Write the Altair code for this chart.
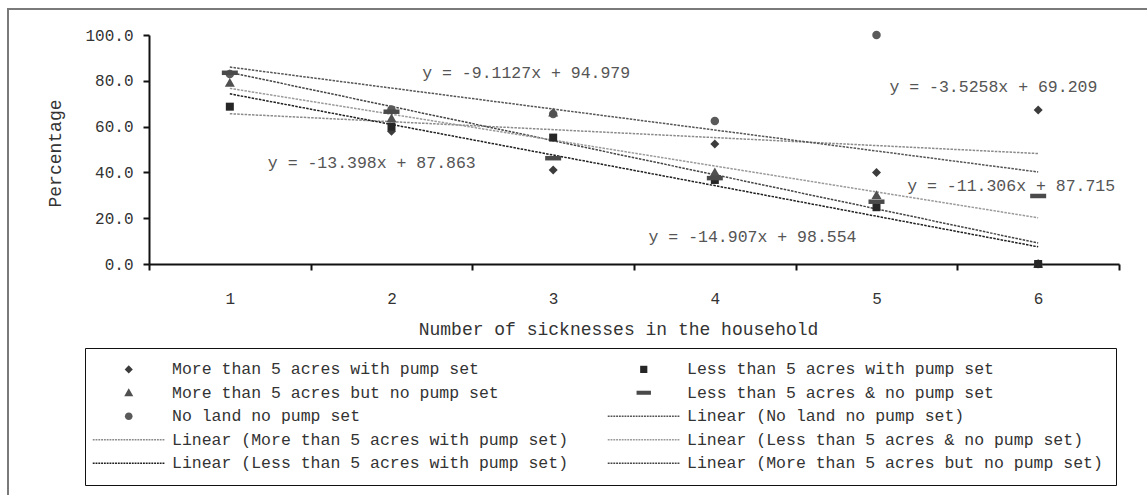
import altair as alt
import pandas as pd

# ---------------- data ----------------
categories = [1, 2, 3, 4, 5, 6]

more_with_pump = [83.0, 58.0, 41.0, 52.4, 40.0, 67.2]
no_land = [83.0, 67.5, 65.5, 62.5, 100.0, 0.0]
more_no_pump = [79.0, 63.5, 66.0, 40.0, 30.0, 0.0]
less_with_pump = [68.7, 60.0, 55.2, 36.7, 24.8, 0.0]
less_no_pump = [83.5, 66.5, 46.2, 37.5, 27.2, 29.7]

S_MWP = "More than 5 acres with pump set"
S_LWP = "Less than 5 acres with pump set"
S_MNP = "More than 5 acres but no pump set"
S_LNP = "Less than 5 acres & no pump set"
S_NL = "No land no pump set"

# drawing order (later drawn on top)
series_order = [S_MWP, S_NL, S_MNP, S_LWP, S_LNP]
series_values = [more_with_pump, no_land, more_no_pump, less_with_pump, less_no_pump]

# legend entries, listed column by column (left column first)
legend_labels = [
    S_MWP, S_MNP, S_NL,
    "Linear (More than 5 acres with pump set)", "Linear (Less than 5 acres with pump set)",
    S_LWP, S_LNP, "Linear (No land no pump set)",
    "Linear (Less than 5 acres & no pump set)", "Linear (More than 5 acres but no pump set)",
]

eq_texts = ["y = -9.1127x + 94.979", "y = -13.398x + 87.863", "y = -14.907x + 98.554",
            "y = -3.5258x + 69.209", "y = -11.306x + 87.715"]
eq_x = [2.19, 1.235, 3.59, 5.08, 5.19]
eq_y = [83.4, 44.1, 11.8, 77.3, 34.1]

y_ticks = [0, 20, 40, 60, 80, 100]

# ---------------- styles ----------------
FONT = "Liberation Mono"
TXT = "#333333"

point_colors = {S_MWP: "#3c3c3c", S_LWP: "#262626", S_MNP: "#505050", S_LNP: "#4a4a4a", S_NL: "#5a5a5a"}
line_colors = {S_NL: "#555555", S_MWP: "#8a8a8a", S_LNP: "#9a9a9a", S_LWP: "#1e1e1e", S_MNP: "#444444"}

diamond = "M0,-0.9L0.9,0L0,0.9L-0.9,0Z"
square = "M-0.8,-0.8H0.8V0.8H-0.8Z"
triangle = "M0,-1L1,0.75H-1Z"
dash = "M-1.6,-0.45H1.6V0.45H-1.6Z"
circle = "M-0.85,0A0.85,0.85,0,1,1,0.85,0A0.85,0.85,0,1,1,-0.85,0Z"

# dotted line sample for legend (unit = 4.5px)
parts = []
xpos = -8.0
while xpos < 8.0:
    x2 = min(xpos + 0.42, 8.0)
    parts.append(f"M{xpos:.2f},-0.16H{x2:.2f}V0.16H{xpos:.2f}Z")
    xpos += 0.62
line_sym = "".join(parts)

shape_map = {S_MWP: diamond, S_LWP: square, S_MNP: triangle, S_LNP: dash, S_NL: circle}
legend_shapes = [shape_map.get(l, line_sym) for l in legend_labels]
legend_colors = []
for l in legend_labels:
    if l in point_colors:
        legend_colors.append(point_colors[l])
    else:
        base = l[len("Linear ("):-1]
        legend_colors.append(line_colors[base])

# ---------------- frames ----------------
rows = []
for s, vals in zip(series_order, series_values):
    for c, v in zip(categories, vals):
        rows.append({"x": c, "y": v, "series": s})
df = pd.DataFrame(rows)
eq_df = pd.DataFrame({"text": eq_texts, "x": eq_x, "y": eq_y})

band_edges = [c - 0.5 for c in categories] + [categories[-1] + 0.5]
plot_w, plot_h = 970, 229
half_band = plot_w / len(categories) / 2

x_scale = alt.Scale(domain=[band_edges[0], band_edges[-1]], nice=False, zero=False)
y_scale = alt.Scale(domain=[0, 100], nice=False)

x_axis = alt.Axis(
    values=band_edges, labelExpr="datum.value < 6 ? format(datum.value + 0.5, 'd') : ''",
    labelOffset=half_band, labelFlush=False, labelOverlap=False, grid=False,
    title="Number of sicknesses in the household", titleX=469, titleY=65,
    titleBaseline="middle", titleAlign="center", labelPadding=20, tickSize=6,
)
y_axis = alt.Axis(
    values=y_ticks, format=".1f", grid=False, title="Percentage",
    titleX=-94, titleY=118, titleAngle=270, titleAlign="center", titleBaseline="middle",
    labelPadding=10, tickSize=6,
)

border = alt.Chart(alt.Data(values=[{"a": 1}])).mark_rect(
    filled=False, stroke="#7a7a7a", strokeWidth=2, clip=False
).encode(x=alt.value(-141), y=alt.value(-26), x2=alt.value(1300), y2=alt.value(700))

lines = alt.Chart(df).transform_regression(
    "x", "y", groupby=["series"], extent=[1, 6]
).mark_line(strokeDash=[2.5, 1.2], strokeWidth=1.5).encode(
    x=alt.X("x:Q", scale=x_scale, axis=x_axis),
    y=alt.Y("y:Q", scale=y_scale, axis=y_axis),
    stroke=alt.Stroke("series:N", scale=alt.Scale(domain=list(line_colors.keys()),
                                                  range=list(line_colors.values())), legend=None),
    detail="series:N",
)

legend = alt.Legend(
    title=None, orient="none", legendX=-64, legendY=313, columns=2,
    columnPadding=38, rowPadding=6.5, padding=13, symbolSize=81, symbolStrokeWidth=0,
    symbolOffset=22.5, labelOffset=35, labelLimit=600, labelFont=FONT,
    labelFontSize=16.5, labelColor=TXT, strokeColor="#111111", fillColor="white",
)

points = alt.Chart(df).mark_point(filled=True, size=100, opacity=1).encode(
    x=alt.X("x:Q", scale=x_scale, axis=x_axis),
    y=alt.Y("y:Q", scale=y_scale, axis=y_axis),
    shape=alt.Shape("series:N", scale=alt.Scale(domain=legend_labels, range=legend_shapes), legend=legend),
    color=alt.Color("series:N", scale=alt.Scale(domain=legend_labels, range=legend_colors), legend=legend),
)

eqs = alt.Chart(eq_df).mark_text(
    align="left", baseline="middle", font=FONT, fontSize=16.5, color="#555555"
).encode(x=alt.X("x:Q", scale=x_scale), y=alt.Y("y:Q", scale=y_scale), text="text:N")

chart = alt.layer(border, lines, points, eqs).properties(
    width=plot_w, height=plot_h,
    padding={"left": 149, "top": 35, "right": 28, "bottom": 231},
    autosize=alt.AutoSizeParams(type="none"),
    background="white",
).configure_view(strokeWidth=0).configure_axis(
    labelFont=FONT, titleFont=FONT, labelFontSize=16, titleFontSize=18,
    labelColor=TXT, titleColor=TXT, titleFontWeight="normal",
    domainColor="#111111", domainWidth=2, tickColor="#111111", tickWidth=2,
)

chart.save("out.html", embed_options={"renderer": "svg", "actions": False})
